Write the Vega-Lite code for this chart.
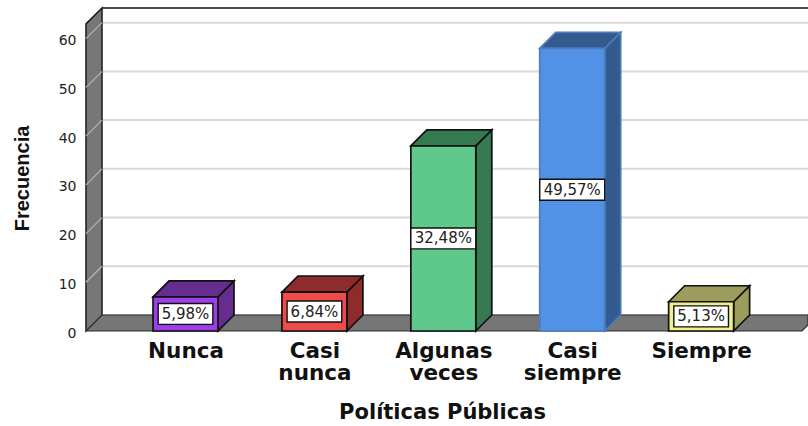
{
"$schema":"https://vega.github.io/schema/vega-lite/v6.json",
"width":722,"height":323,"autosize":"none","padding":{"left":86,"top":8,"right":0,"bottom":95},
"background":"white","view":{"stroke":null},
"config":{"font":"Liberation Sans"},
"datasets":{"bars":[
{"cat":"Nunca","count":7,"pct":"5,98%"},
{"cat":"Casi nunca","count":8,"pct":"6,84%"},
{"cat":"Algunas veces","count":38,"pct":"32,48%"},
{"cat":"Casi siempre","count":58,"pct":"49,57%"},
{"cat":"Siempre","count":6,"pct":"5,13%"}],
"ticks":[{"tick":0},{"tick":10},{"tick":20},{"tick":30},{"tick":40},{"tick":50},{"tick":60}]},
"data":{"name":"bars"},
"encoding":{
"x":{"field":"x","type":"quantitative","scale":{"domain":[-0.772,4.829],"nice":false,"zero":false},
 "axis":{"title":"Políticas Públicas","titleFont":"DejaVu Sans","titleFontSize":21,"titleFontWeight":"bold","titleColor":"#111111","titleX":356,"titleY":87,"titleBaseline":"alphabetic","titleAnchor":"middle","titleAlign":"center",
  "values":[0,1,2,3,4],"domain":false,"ticks":false,"grid":false,"labelFont":"DejaVu Sans","labelFontSize":21.5,"labelFontWeight":"bold","labelColor":"#111111","labelPadding":9,"labelLineHeight":22,"labelOverlap":false,"labelFlush":false,"labelBound":false,"labelBaseline":"top",
  "labelExpr":"[['Nunca'],['Casi','nunca'],['Algunas','veces'],['Casi','siempre'],['Siempre']][datum.value]"}},
"y":{"field":"y","type":"quantitative","scale":{"domain":[0,66.3],"nice":false,"zero":false},
 "axis":{"title":"Frecuencia","titleFont":"Liberation Sans","titleFontSize":20,"titleFontWeight":"bold","titleColor":"#111111","titleX":-58,"titleY":170,"titleAngle":-90,"titleAlign":"center","titleBaseline":"alphabetic",
  "values":[0,10,20,30,40,50,60],"domain":false,"ticks":false,"grid":false,"labelFont":"DejaVu Sans","labelFontSize":14,"labelColor":"#222222","labelPadding":10,"labelOffset":2,"labelOverlap":false,"labelBound":false,"labelFlush":false}}
},
"layer":[
{"data":{"name":"ticks"},
 "transform":[{"calculate":"datum.tick+3.285","as":"y"},{"calculate":"-0.6479","as":"x"},{"calculate":"4.829","as":"xe"}],
 "mark":{"type":"rule","color":"#d9d9d9","strokeWidth":2},
 "encoding":{"x2":{"field":"xe"},"y2":{"field":"y"}}},
{"data":{"values":[{"part":"topLine"}]},
 "transform":[{"calculate":"66.3","as":"y"},{"calculate":"-0.6479","as":"x"},{"calculate":"4.829","as":"xe"}],
 "mark":{"type":"rule","color":"#111111","strokeWidth":1.6},
 "encoding":{"x2":{"field":"xe"},"y2":{"field":"y"}}},
{"data":{"values":[{"part":"leftWall"}]},
 "transform":[{"calculate":"[[-0.772,0,63.04],[-0.6479,3.285,66.3]]","as":"p"},{"flatten":["p"]},
  {"calculate":"datum.p[0]","as":"x"},{"calculate":"datum.p[1]","as":"y2"},{"calculate":"datum.p[2]","as":"y"}],
 "mark":{"type":"area","fill":"#777777","stroke":"#1a1a1a","strokeWidth":1.5,"strokeJoin":"miter"},
 "encoding":{"y2":{"field":"y2"}}},
{"data":{"name":"ticks"},
 "transform":[{"calculate":"datum.tick","as":"y"},{"calculate":"datum.tick+3.285","as":"ye"},{"calculate":"-0.772","as":"x"},{"calculate":"-0.6479","as":"xe"}],
 "mark":{"type":"rule","color":"#b4b4b4","strokeWidth":1.2},
 "encoding":{"x2":{"field":"xe"},"y2":{"field":"ye"}}},
{"data":{"values":[{"part":"floor"}]},
 "transform":[{"calculate":"[[-0.772,0,0],[-0.6479,3.285,0],[4.7824,3.285,0],[4.829,3.285,1.23]]","as":"p"},{"flatten":["p"]},
  {"calculate":"datum.p[0]","as":"x"},{"calculate":"datum.p[1]","as":"y"},{"calculate":"datum.p[2]","as":"y2"}],
 "mark":{"type":"area","fill":"#767676","stroke":"#2a2a2a","strokeWidth":1.2},
 "encoding":{"y2":{"field":"y2"}}},
{"transform":[{"window":[{"op":"row_number","as":"rn"}]},{"calculate":"datum.rn-1","as":"i"},
  {"calculate":"[0,1]","as":"t"},{"flatten":["t"]},
  {"calculate":"datum.i+0.252+datum.t*0.1241","as":"x"},{"calculate":"datum.count+datum.t*3.285","as":"y"},{"calculate":"datum.t*3.285","as":"y2"}],
 "mark":{"type":"area","strokeWidth":1.7},
 "encoding":{"y2":{"field":"y2"},
  "fill":{"field":"cat","type":"nominal","legend":null,"scale":{"domain":["Nunca","Casi nunca","Algunas veces","Casi siempre","Siempre"],"range":["#662d91","#8e2c2c","#357a50","#335b90","#9c9c5c"]}},
  "stroke":{"field":"cat","type":"nominal","legend":null,"scale":{"domain":["Nunca","Casi nunca","Algunas veces","Casi siempre","Siempre"],"range":["#111111","#111111","#111111","#4a7cbe","#111111"]}}}},
{"transform":[{"window":[{"op":"row_number","as":"rn"}]},{"calculate":"datum.rn-1","as":"i"},
  {"calculate":"[0,1,2,3]","as":"t"},{"flatten":["t"]},
  {"calculate":"datum.i+[-0.252,-0.1279,0.252,0.3761][datum.t]","as":"x"},{"calculate":"datum.count+(datum.t==0?0:3.285)","as":"y"},{"calculate":"datum.count+(datum.t==3?3.285:0)","as":"y2"}],
 "mark":{"type":"area","strokeWidth":1.7},
 "encoding":{"y2":{"field":"y2"},
  "fill":{"field":"cat","type":"nominal","legend":null},
  "stroke":{"field":"cat","type":"nominal","legend":null}}},
{"transform":[{"window":[{"op":"row_number","as":"rn"}]},{"calculate":"datum.rn-1","as":"i"},
  {"calculate":"datum.i-0.252","as":"x"},{"calculate":"datum.i+0.252","as":"xe"},{"calculate":"datum.count","as":"y"}],
 "mark":{"type":"rect","strokeWidth":1.7},
 "encoding":{"x2":{"field":"xe"},"y2":{"datum":0},
  "color":{"field":"cat","type":"nominal","legend":null,"scale":{"domain":["Nunca","Casi nunca","Algunas veces","Casi siempre","Siempre"],"range":["#9b3fe8","#ef4b4b","#5ec98a","#5292e6","#efef8c"]}},
  "stroke":{"field":"cat","type":"nominal","legend":null}}},
{"transform":[{"window":[{"op":"row_number","as":"rn"}]},{"calculate":"datum.rn-1","as":"i"},
  {"calculate":"datum.count>=10?0.252:0.212","as":"w"},
  {"calculate":"datum.i-datum.w","as":"x"},{"calculate":"datum.i+datum.w","as":"xe"},{"calculate":"datum.count/2-2.15","as":"y"},{"calculate":"datum.count/2+2.15","as":"ye"}],
 "mark":{"type":"rect","fill":"white","stroke":"#111111","strokeWidth":1.4},
 "encoding":{"x2":{"field":"xe"},"y2":{"field":"ye"}}},
{"transform":[{"window":[{"op":"row_number","as":"rn"}]},{"calculate":"datum.rn-1","as":"x"},{"calculate":"datum.count/2","as":"y"}],
 "mark":{"type":"text","font":"DejaVu Sans","fontSize":15,"color":"#222222","align":"center","baseline":"middle"},
 "encoding":{"text":{"field":"pct"}}}
]}
